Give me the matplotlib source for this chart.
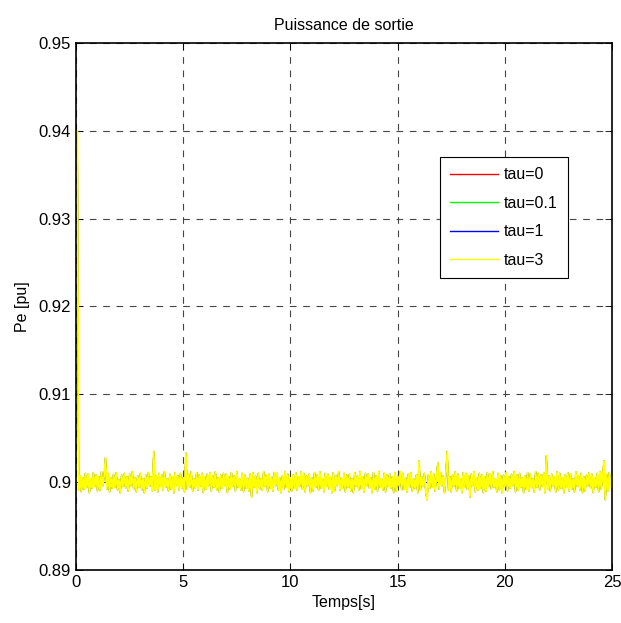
import numpy as np
from matplotlib import pyplot as plt

plt.rcParams['font.family'] = ['Liberation Sans', 'DejaVu Sans']

# simulation step and output power deviation (in 1e-4 pu around 0.9 pu)
dt = 0.0625
pe_base = 0.9
pe_dev = [
    400, 400, -9, 7, -11, 5, -8, 10, -6, 9, -12, 4, -7, 11, -5, 8, -10, 6, -9, 12,
    -4, 7, 28, -8, 10, -11, 5, -7, 9, -6, 11, -9, 3, -12, 8, -5, 10, -7, 6, -10,
    9, -4, 12, -8, 5, -11, 7, -6, 10, -9, 4, -12, 8, -7, 11, -5, 6, -10, 35, -9,
    7, -11, 10, -5, 8, -9, 12, -6, 4, -10, 9, -8, 6, -12, 11, -4, 7, -9, 10, -7,
    5, -11, 33, -8, 9, -6, 12, -10, 4, -7, 11, -9, 8, -5, 10, -12, 6, -8, 9, -4,
    11, -10, 7, -6, 12, -9, 5, -11, 8, -7, 10, -4, 9, -12, 6, -8, 11, -5, 7, -10,
    12, -6, 4, -9, 10, -11, 8, -7, 5, -10, 9, -17, 11, -6, 7, -12, 10, -8, 4, -9,
    12, -5, 8, -11, 9, -7, 6, -10, 11, -4, 10, -9, 5, -12, 7, -8, 12, -6, 9, -11,
    4, -10, 8, -7, 11, -9, 6, -5, 12, -8, 10, -11, 7, -4, 9, -12, 5, -10, 11, -6,
    8, -9, 12, -7, 4, -11, 10, -5, 9, -8, 6, -12, 11, -10, 7, -4, 12, -9, 5, -7,
    10, -11, 8, -6, 9, -10, 4, -12, 11, -5, 7, -9, 12, -8, 6, -11, 10, -4, 9, -7,
    5, -12, 11, -8, 7, -10, 12, -6, 4, -9, 10, -11, 8, -5, 9, -7, 6, -12, 11, -10,
    7, -4, 12, -9, 10, -8, 5, -11, 9, -6, 11, -10, 4, -7, 8, -12, 24, -9, 6, -5,
    10, -11, -20, 8, -7, 12, -6, 9, -10, 5, 22, -8, 11, -4, 7, -12, 10, 35, -9, 6,
    -11, 8, -5, 12, -10, 9, -7, 4, -12, 11, -6, 10, -8, 7, -17, 9, -4, 12, -11, 5,
    -9, 10, -7, 8, -12, 6, -10, 11, -5, 9, -8, 12, -6, 4, -11, 10, -9, 7, -12, 8,
    -5, 11, -10, 6, -7, 9, -4, 12, -11, 8, -9, 10, -6, 5, -12, 7, -8, 11, -10, 9,
    -7, 4, -11, 12, -6, 10, -9, 8, -5, 11, -12, 30, -8, 7, -10, 9, -4, 6, -11, 12,
    -9, 10, -7, 5, -12, 8, -6, 11, -10, 9, -8, 4, -11, 12, -5, 7, -9, 10, -12, 6,
    -10, 8, -4, 11, -7, 9, -12, 5, -6, 10, -11, 12, -8, 7, 24, -20, 9, -10, 11, -5,
    8,
]

taus = ['tau=0', 'tau=0.1', 'tau=1', 'tau=3']
colors = ['#ff0000', '#00ff00', '#0000ff', '#ffff00']
widths = [0.8, 0.8, 0.8, 1.35]

t = np.arange(len(pe_dev)) * dt
pe = pe_base + np.array(pe_dev) * 1e-4

fig = plt.figure(figsize=(6.21, 6.23), dpi=100)
ax = fig.add_axes([0.1224, 0.0851, 0.8631, 0.8459])

for lab, c, w in zip(taus, colors, widths):
    ax.plot(t, pe, color=c, lw=w, label=lab)

ax.set_xlim(0, 25)
ax.set_ylim(0.89, 0.95)
ax.set_xticks([0, 5, 10, 15, 20, 25])
ax.set_yticks([0.89, 0.9, 0.91, 0.92, 0.93, 0.94, 0.95])
ax.set_yticklabels(['0.89', '0.9', '0.91', '0.92', '0.93', '0.94', '0.95'])
ax.tick_params(direction='in', top=True, right=True, labelsize=12, length=5, width=0.6)
ax.grid(True, color='#444444', linestyle=(0, (6, 6)), lw=0.8)
for s in ax.spines.values():
    s.set_linewidth(1.2)

ax.set_title('Puissance de sortie', fontsize=11.5, pad=9)
ax.set_xlabel('Temps[s]', fontsize=11.5, labelpad=4)
ax.set_ylabel('Pe [pu]', fontsize=11.5, labelpad=6)

leg = ax.legend(loc='upper left', bbox_to_anchor=(0.679, 0.784), fontsize=11.5,
                fancybox=False, framealpha=1, edgecolor='k', handlelength=3.0,
                labelspacing=0.85, borderpad=0.65, borderaxespad=0, handletextpad=0.35)
leg.get_frame().set_linewidth(0.8)
for h in leg.get_lines():
    h.set_linewidth(1.0)

fig.savefig('out.png', dpi=100)
